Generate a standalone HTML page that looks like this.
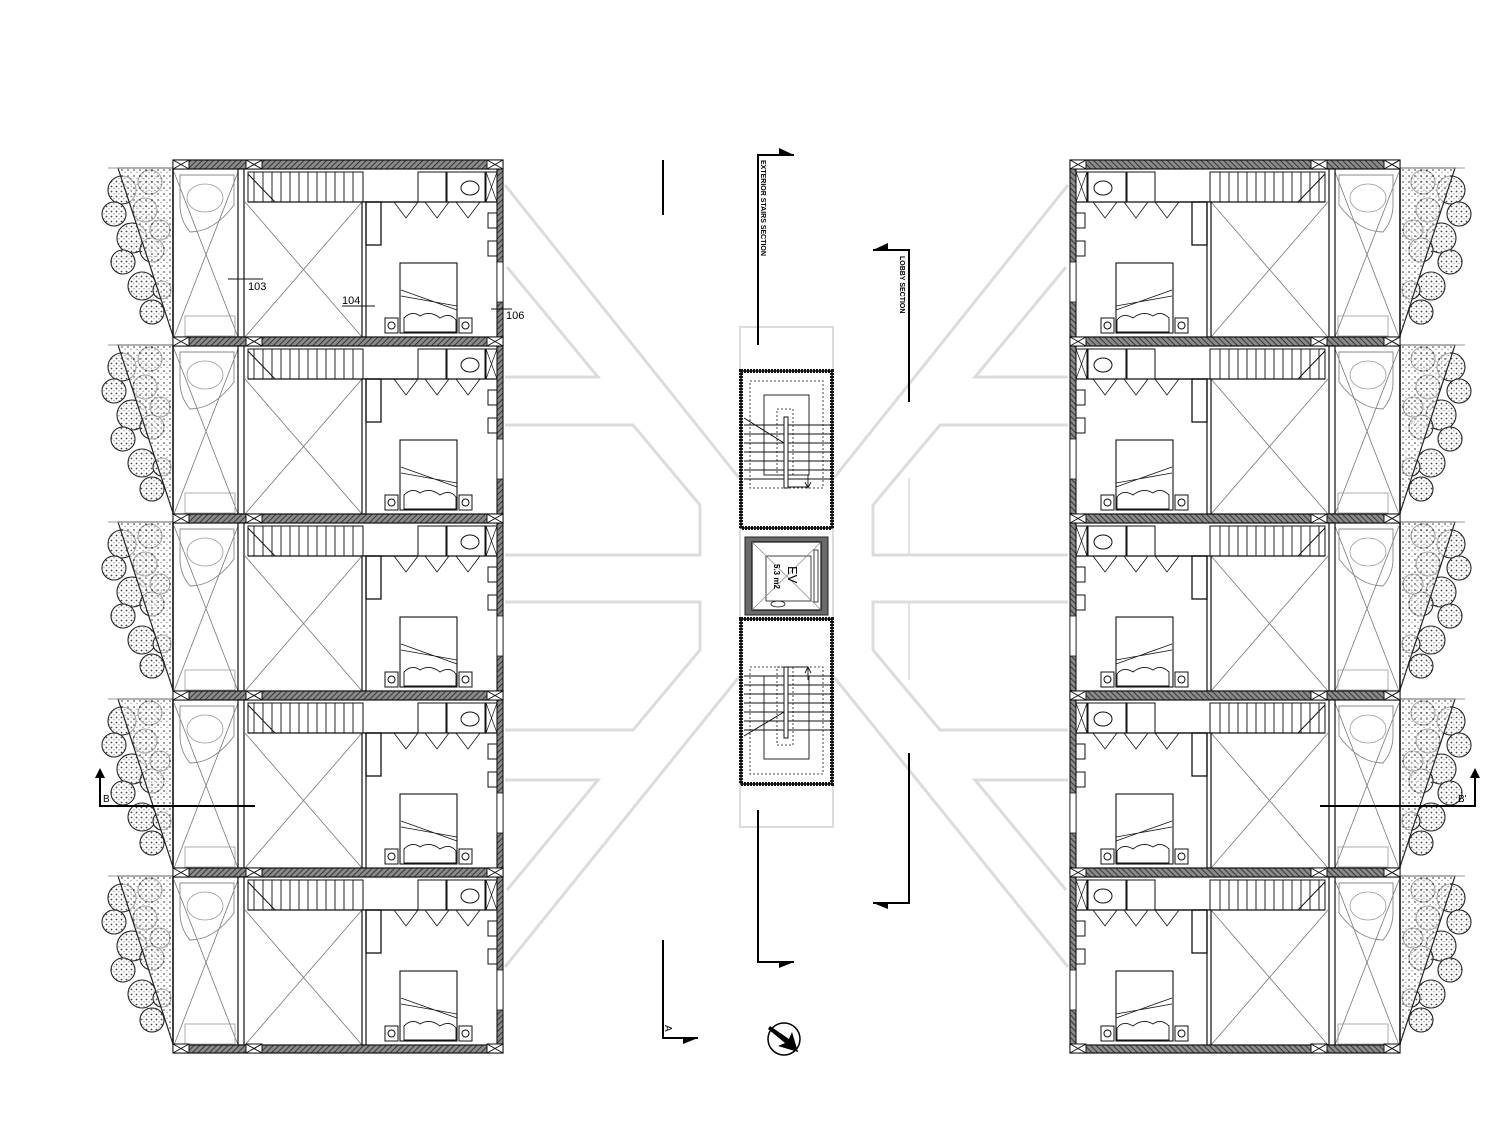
<!DOCTYPE html>
<html><head><meta charset="utf-8"><style>
html,body{margin:0;padding:0;background:#fff;}
svg{display:block;}
text{font-family:"Liberation Sans",sans-serif;}
</style></head><body>
<svg width="1512" height="1134" viewBox="0 0 1512 1134" xmlns="http://www.w3.org/2000/svg">
<defs>
<pattern id="hatch" width="4" height="4" patternUnits="userSpaceOnUse" patternTransform="rotate(45)">
<rect width="4" height="4" fill="#8a8a8a"/><line x1="0" y1="0" x2="0" y2="4" stroke="#222" stroke-width="1.6"/></pattern>
<pattern id="dots" width="6" height="6" patternUnits="userSpaceOnUse">
<rect width="6" height="6" fill="#fff"/><circle cx="2" cy="2" r="1" fill="#333"/><circle cx="5" cy="4.5" r="0.7" fill="#555"/></pattern>
<pattern id="dots2" width="5" height="5" patternUnits="userSpaceOnUse">
<rect width="5" height="5" fill="#fff"/><circle cx="1.5" cy="1.5" r="0.9" fill="#444"/><circle cx="4" cy="3.8" r="0.6" fill="#666"/></pattern>
<g id="xb"><rect x="0" y="0" width="16" height="9" fill="#fff" stroke="#111" stroke-width="1"/><path d="M0,0 L16,9 M16,0 L0,9" stroke="#111" stroke-width="1"/></g>
<g id="u" fill="none" stroke="#111" stroke-width="1">
 <!-- tree -->
 <g stroke="#222" stroke-width="1.1" fill="url(#dots2)">
  <circle cx="122" cy="190" r="14"/><circle cx="114" cy="214" r="12"/><circle cx="132" cy="238" r="15"/>
  <circle cx="123" cy="262" r="12"/><circle cx="142" cy="286" r="14"/><circle cx="152" cy="312" r="12"/>
  <circle cx="150" cy="182" r="12"/><circle cx="145" cy="210" r="12"/><circle cx="152" cy="250" r="12"/>
  <circle cx="160" cy="230" r="10"/><circle cx="162" cy="290" r="9"/>
 </g>
 <path d="M118,168 L173,168 L173,336 Z" fill="url(#dots)" stroke="#222" stroke-width="1.2" fill-opacity="0.6"/>
 <line x1="108" y1="168" x2="173" y2="168" stroke="#999"/>
 <!-- top wall -->
 <rect x="173" y="160" width="330" height="9" fill="url(#hatch)" stroke="#111" stroke-width="1.2"/>
 <use href="#xb" x="173" y="160"/><use href="#xb" x="246" y="160"/><use href="#xb" x="487" y="160"/>
 <!-- left column -->
 <line x1="173" y1="169" x2="173" y2="337" stroke-width="1.5"/>
 <path d="M174,172 L238,337 M238,172 L174,337" stroke="#777" stroke-width="0.8"/>
 <path d="M180,175 L234,175 L234,205 Q214,232 190,232 Q180,220 180,205 Z" stroke="#888" stroke-width="0.9"/>
 <ellipse cx="205" cy="198" rx="18" ry="14" stroke="#999" stroke-width="0.8"/>
 <rect x="185" y="316" width="50" height="20" stroke="#999" stroke-width="0.8"/>
 <rect x="238" y="169" width="6" height="168" fill="#fff" stroke-width="1.2"/>
 <!-- stair -->
 <rect x="248" y="172" width="115" height="30"/>
 <path d="M254,172V202 M263,172V202 M272,172V202 M281,172V202 M290,172V202 M299,172V202 M308,172V202 M317,172V202 M326,172V202 M335,172V202 M344,172V202 M353,172V202" stroke-width="0.9"/>
 <line x1="248" y1="174" x2="275" y2="202"/>
 <!-- void -->
 <path d="M245,202 L362,337 M362,202 L245,337" stroke="#777" stroke-width="0.8"/>
 <line x1="248" y1="202" x2="418" y2="202" stroke-width="1.3"/>
 <rect x="362" y="202" width="4" height="135" fill="#fff" stroke-width="1.2"/>
 <rect x="366" y="202" width="15" height="43" stroke-width="1.3"/>
 <!-- bath -->
 <rect x="418" y="172" width="28" height="30"/>
 <rect x="447" y="172" width="38" height="30"/>
 <ellipse cx="470" cy="188" rx="9" ry="7"/>
 <rect x="486" y="172" width="11" height="30"/>
 <path d="M486,172 L497,202 M497,172 L486,202" stroke-width="0.7"/>
 <line x1="366" y1="202" x2="497" y2="202" stroke-width="1.3"/>
 <path d="M394,202 L406,218 L418,202 M425,202 L437,218 L449,202 M456,202 L468,218 L480,202" stroke-width="0.8"/>
 <rect x="488" y="213" width="9" height="15"/><rect x="488" y="241" width="9" height="15"/>
 <!-- bed -->
 <rect x="400" y="263" width="57" height="70" stroke-width="1.1"/>
 <path d="M401,290 L457,310 M401,296 L457,306" stroke-width="0.8"/>
 <path d="M404,318 Q412,310 420,316 Q430,310 440,318 Q450,312 456,320 L456,332 L404,332 Z" stroke-width="0.9"/>
 <rect x="385" y="318" width="13" height="15"/><circle cx="391.5" cy="325.5" r="3.5"/>
 <rect x="459" y="318" width="13" height="15"/><circle cx="465.5" cy="325.5" r="3.5"/>
 <!-- right wall -->
 <rect x="497" y="169" width="6" height="168" fill="url(#hatch)" stroke-width="1.1"/>
 <rect x="497" y="262" width="6" height="40" fill="#fff" stroke-width="0.8"/>
</g>
</defs>

<!-- background grey pattern -->
<g fill="none" stroke="#dcdcdc" stroke-width="3">
 <path d="M505,185 L739,478"/>
 <path d="M507,267 L598,377 L505,377"/>
 <path d="M505,425 L633,425 L700,505 L700,555 L505,555"/>
 <path d="M505,602 L700,602 L700,650 L633,730 L505,730"/>
 <path d="M505,780 L598,780 L507,890"/>
 <path d="M739,677 L505,967"/>
 <path d="M1068,185 L834,478"/>
 <path d="M1066,267 L975,377 L1068,377"/>
 <path d="M1068,425 L940,425 L873,505 L873,555 L1068,555"/>
 <path d="M1068,602 L873,602 L873,650 L940,730 L1068,730"/>
 <path d="M1068,780 L975,780 L1066,890"/>
 <path d="M834,677 L1068,967"/>
 <path d="M909,478 L909,555 M909,602 L909,680" stroke-width="1.5"/>
 <rect x="740" y="327" width="93" height="500" stroke-width="2"/>
</g>

<!-- left building -->
<use href="#u"/>
<use href="#u" y="177"/>
<use href="#u" y="354"/>
<use href="#u" y="531"/>
<use href="#u" y="708"/>
<g>
 <rect x="173" y="1045" width="330" height="8" fill="url(#hatch)" stroke="#111" stroke-width="1.2"/>
 <use href="#xb" x="173" y="1044"/><use href="#xb" x="246" y="1044"/><use href="#xb" x="487" y="1044"/>
</g>
<!-- right building (mirror) -->
<g transform="translate(1573,0) scale(-1,1)">
<use href="#u"/>
<use href="#u" y="177"/>
<use href="#u" y="354"/>
<use href="#u" y="531"/>
<use href="#u" y="708"/>
 <rect x="173" y="1045" width="330" height="8" fill="url(#hatch)" stroke="#111" stroke-width="1.2"/>
 <use href="#xb" x="173" y="1044"/><use href="#xb" x="246" y="1044"/><use href="#xb" x="487" y="1044"/>
</g>

<!-- room labels -->
<g stroke="#111" stroke-width="1">
 <line x1="228" y1="279" x2="263" y2="279"/>
 <line x1="342" y1="306" x2="375" y2="306"/>
 <line x1="491" y1="309" x2="512" y2="309"/>
</g>
<text x="248" y="290" font-size="11">103</text>
<text x="342" y="304" font-size="11">104</text>
<text x="506" y="319" font-size="11">106</text>

<!-- core: stairs upper -->
<g fill="none" stroke="#111">
 <rect x="741" y="371" width="91" height="157" stroke-width="4" stroke-dasharray="2 1"/>
 <rect x="741" y="371" width="91" height="157" stroke-width="1.5"/>
 <rect x="750" y="381" width="73" height="107" stroke-dasharray="2 2" stroke-width="0.8"/>
 <rect x="764" y="395" width="45" height="80" stroke-width="0.9"/>
 <rect x="777" y="409" width="16" height="66" stroke-dasharray="2 2" stroke-width="0.8"/>
 <path d="M744,425H832 M744,434H832 M744,443H832 M744,452H832 M744,461H832 M744,470H832 M744,479H832" stroke-width="0.9"/>
 <line x1="744" y1="418" x2="784" y2="443"/>
 <rect x="784" y="417" width="4" height="71" fill="#fff"/>
 <line x1="788" y1="487" x2="808" y2="487"/>
 <path d="M808,475 L808,488 M805,482 L808,488 L811,482" stroke-width="0.9"/>
</g>
<!-- EV -->
<g fill="none" stroke="#111">
 <rect x="745" y="537" width="83" height="78" fill="#6a6a6a" stroke="#222"/>
 <rect x="752" y="542" width="69" height="68" fill="#fff" stroke-width="1.2"/>
 <rect x="766" y="556" width="45" height="45" stroke-width="0.8"/>
 <path d="M752,542 L821,610 M821,542 L752,610" stroke="#888" stroke-width="0.7"/>
 <rect x="814" y="550" width="4" height="52" stroke-width="0.8"/>
 <ellipse cx="778" cy="604" rx="7" ry="3" stroke-width="0.8"/>
</g>
<text transform="translate(788,566) rotate(90)" font-size="13" text-anchor="start">EV</text>
<text transform="translate(774,564) rotate(90)" font-size="8" font-weight="bold">5.3 m2</text>
<!-- core: stairs lower -->
<g fill="none" stroke="#111">
 <rect x="741" y="619" width="91" height="165" stroke-width="4" stroke-dasharray="2 1"/>
 <rect x="741" y="619" width="91" height="165" stroke-width="1.5"/>
 <rect x="750" y="667" width="73" height="107" stroke-dasharray="2 2" stroke-width="0.8"/>
 <rect x="764" y="676" width="45" height="83" stroke-width="0.9"/>
 <rect x="777" y="667" width="16" height="78" stroke-dasharray="2 2" stroke-width="0.8"/>
 <path d="M744,676H832 M744,685H832 M744,694H832 M744,703H832 M744,712H832 M744,721H832 M744,730H832" stroke-width="0.9"/>
 <line x1="744" y1="736" x2="784" y2="712"/>
 <rect x="784" y="667" width="4" height="71" fill="#fff"/>
 <line x1="788" y1="667" x2="808" y2="667"/>
 <path d="M808,680 L808,667 M805,673 L808,667 L811,673" stroke-width="0.9"/>
</g>

<!-- section markers -->
<g stroke="#000" stroke-width="2" fill="none">
 <path d="M663,160 V215"/>
 <path d="M758,345 V155 H794"/>
 <path d="M909,402 V250 H873"/>
 <path d="M758,810 V962 H794"/>
 <path d="M909,753 V903 H873"/>
 <path d="M663,940 V1038 H698"/>
 <path d="M100,770 V806 H255"/>
 <path d="M1475,770 V806 H1320"/>
</g>
<g fill="#000">
 <path d="M779,155 L794,155 L779,148 Z"/>
 <path d="M888,250 L873,250 L888,243 Z"/>
 <path d="M779,962 L794,962 L779,968 Z"/>
 <path d="M888,903 L873,903 L888,909 Z"/>
 <path d="M683,1038 L698,1038 L683,1044 Z"/>
 <path d="M95,778 L100,768 L105,778 Z"/>
 <path d="M1470,778 L1475,768 L1480,778 Z"/>
</g>
<text transform="translate(761,160) rotate(90)" font-size="7" font-weight="bold">EXTERIOR STAIRS SECTION</text>
<text transform="translate(900,256) rotate(90)" font-size="7" font-weight="bold">LOBBY SECTION</text>
<text transform="translate(665,1025) rotate(90)" font-size="10">A</text>
<text x="103" y="802" font-size="10">B</text>
<text x="1458" y="802" font-size="10">B'</text>
<!-- north arrow -->
<circle cx="784" cy="1039" r="16" fill="#fff" stroke="#000" stroke-width="1.5"/>
<path d="M770,1026 L789,1039 L792,1032 L798,1052 L778,1046 L785,1043 L768,1029 Z" fill="#000"/>
</svg>
</body></html>
